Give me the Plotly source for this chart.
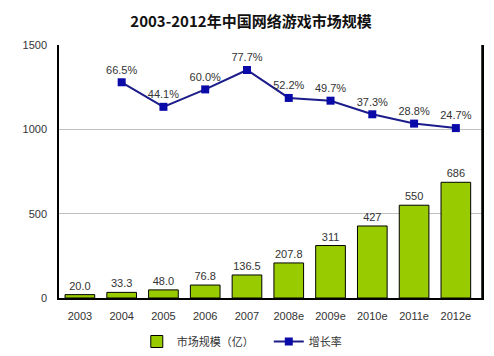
import plotly.graph_objects as go

years = ["2003", "2004", "2005", "2006", "2007", "2008e", "2009e", "2010e", "2011e", "2012e"]
market = [20.0, 33.3, 48.0, 76.8, 136.5, 207.8, 311, 427, 550, 686]
market_labels = ["20.0", "33.3", "48.0", "76.8", "136.5", "207.8", "311", "427", "550", "686"]
growth_years = ["2004", "2005", "2006", "2007", "2008e", "2009e", "2010e", "2011e", "2012e"]
growth = [66.5, 44.1, 60.0, 77.7, 52.2, 49.7, 37.3, 28.8, 24.7]
growth_labels = ["66.5%", "44.1%", "60.0%", "77.7%", "52.2%", "49.7%", "37.3%", "28.8%", "24.7%"]
yticks = [0, 500, 1000, 1500]

font_main = "Liberation Sans, Arial, Noto Sans CJK SC, sans-serif"

fig = go.Figure()
fig.add_trace(go.Bar(
    x=years, y=market, name="市场规模（亿）",
    marker=dict(color="#99cc00", line=dict(color="#000000", width=1)),
    text=market_labels, textposition="outside", cliponaxis=False,
    textfont=dict(size=11, color="#333333", family=font_main),
))
fig.add_trace(go.Scatter(
    x=growth_years, y=growth, name="增长率", yaxis="y2",
    mode="lines+markers+text",
    line=dict(color="#1c1c8a", width=2),
    marker=dict(symbol="square", size=8, color="#0a0aa8"),
    text=growth_labels, textposition="top center", cliponaxis=False,
    textfont=dict(size=11, color="#333333", family=font_main),
))

# page body has an 8px default margin, so the figure is sized to fit the window
fig.update_layout(
    width=486, height=348,
    margin=dict(l=51, r=12, t=37, b=58),
    paper_bgcolor="white", plot_bgcolor="white",
    font=dict(family=font_main, size=11, color="#333333"),
    title=dict(text="<b>2003-2012年中国网络游戏市场规模</b>", x=0.5, xanchor="center",
               xref="container",
               y=0.96, yanchor="middle",
               font=dict(family="Noto Sans CJK SC, sans-serif", size=15, color="#111111")),
    bargap=0.29,
    showlegend=True,
    legend=dict(orientation="h", xref="container", x=0.265, xanchor="left",
                yref="container", y=-0.022, yanchor="bottom",
                font=dict(size=11, color="#333333", family="Noto Sans CJK SC, sans-serif"),
                itemwidth=30, traceorder="normal", entrywidth=87),
    xaxis=dict(showline=True, linecolor="black", linewidth=2, mirror=False,
               ticks="", tickfont=dict(size=11, color="#333333"), showgrid=False,
               ticklabelstandoff=7, automargin=False),
    yaxis=dict(range=[0, 1500], tickvals=yticks, showgrid=True, gridcolor="#c0c0c0",
               gridwidth=1, showline=True, linecolor="black", linewidth=1.5, mirror=True,
               ticks="", tickfont=dict(size=11, color="#333333"), zeroline=False,
               ticklabelstandoff=8, automargin=False),
    yaxis2=dict(range=[-130.3, 100.5], overlaying="y", side="right", visible=False),
)
fig.add_shape(type="line", xref="paper", yref="paper", x0=1, x1=1, y0=0, y1=1,
              line=dict(color="black", width=1.5))

fig.write_html("out.html")
